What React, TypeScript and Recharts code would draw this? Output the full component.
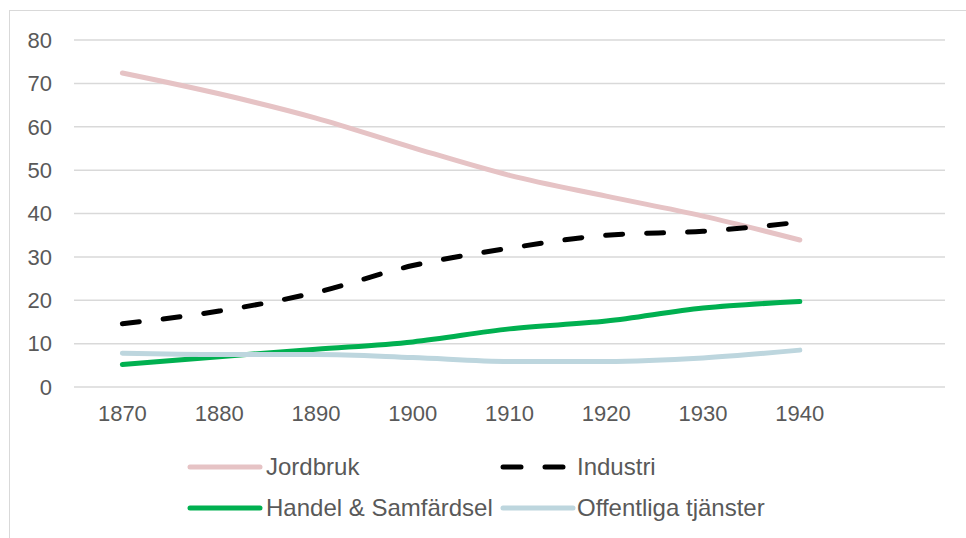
import React from 'react';
import { LineChart, Line, XAxis, YAxis, CartesianGrid, Legend } from 'recharts';

// år (sista kategorin är tom, som i originalet)
const years = ['1870', '1880', '1890', '1900', '1910', '1920', '1930', '1940', ''];

const jordbruk = [72.4, 67.6, 62, 55.2, 48.8, 44, 39.4, 33.9, null];
const industri = [14.6, 17.5, 21.8, 28, 32, 35, 35.9, 38, null];
const handel = [5.2, 7, 8.7, 10.4, 13.4, 15.2, 18.2, 19.7, null];
const offentliga = [7.8, 7.5, 7.5, 6.8, 5.9, 5.9, 6.7, 8.5, null];

const yTicks = [0, 10, 20, 30, 40, 50, 60, 70, 80];

const series = [
  { key: 'jordbruk', name: 'Jordbruk', color: '#e6c3c5', dash: undefined },
  { key: 'industri', name: 'Industri', color: '#000000', dash: '17 24' },
  { key: 'handel', name: 'Handel & Samfärdsel', color: '#00b050', dash: undefined },
  { key: 'offentliga', name: 'Offentliga tjänster', color: '#bdd6de', dash: undefined },
];

const data = years.map((year, i) => ({
  year,
  jordbruk: jordbruk[i],
  industri: industri[i],
  handel: handel[i],
  offentliga: offentliga[i],
}));

const font = '"Liberation Sans", Arial, sans-serif';
const textColor = '#595959';

const LegendIcon = ({ color, dash }: { color: string; dash?: string }) => (
  <svg width={76} height={10} style={{ display: 'block' }}>
    <line
      x1={3}
      y1={5}
      x2={dash ? 63 : 73}
      y2={5}
      stroke={color}
      strokeWidth={5}
      strokeLinecap="round"
      strokeDasharray={dash ? '18 24' : undefined}
    />
  </svg>
);

const ChartLegend = () => {
  const cols = [0, 313];
  return (
    <div style={{ position: 'relative', width: 640, height: 100, fontFamily: font, fontSize: 24, color: textColor }}>
      {series.map((s, i) => (
        <div
          key={s.key}
          style={{
            position: 'absolute',
            left: cols[i % 2],
            top: i < 2 ? 5 : 46,
            height: 28,
            display: 'flex',
            alignItems: 'center',
            whiteSpace: 'nowrap',
          }}
        >
          <LegendIcon color={s.color} dash={s.dash} />
          <span style={{ marginLeft: i % 2 === 1 ? 1 : 3 }}>{s.name}</span>
        </div>
      ))}
    </div>
  );
};

export default function App() {
  return (
    <div style={{ position: 'absolute', left: 0, top: 0, width: 966, height: 538, overflow: 'hidden', background: '#fff' }}>
      <div
        style={{
          position: 'absolute',
          left: 9,
          top: 10,
          width: 970,
          height: 540,
          borderLeft: '1px solid #d9d9d9',
          borderTop: '1px solid #d9d9d9',
        }}
      />
      <div style={{ position: 'absolute', left: 0, top: 0 }}>
        <LineChart
          width={966}
          height={538}
          data={data}
          margin={{ top: 40, right: 21, left: 24, bottom: 11 }}
        >
          <CartesianGrid vertical={false} stroke="#d9d9d9" strokeWidth={1.5} />
          <XAxis
            dataKey="year"
            scale="band"
            axisLine={false}
            tickLine={false}
            height={40}
            tickMargin={12}
            interval={0}
            tick={{ fill: textColor, fontSize: 22, fontFamily: font }}
          />
          <YAxis
            domain={[0, 80]}
            ticks={yTicks}
            axisLine={false}
            tickLine={false}
            width={50}
            tickMargin={16}
            tick={{ fill: textColor, fontSize: 22, fontFamily: font }}
          />
          <Legend
            verticalAlign="bottom"
            content={() => <ChartLegend />}
            wrapperStyle={{ left: 187, top: 448, width: 640 }}
          />
          {series.map((s) => (
            <Line
              key={s.key}
              type="monotone"
              dataKey={s.key}
              name={s.name}
              stroke={s.color}
              strokeWidth={5}
              strokeDasharray={s.dash}
              strokeLinecap="round"
              dot={false}
              activeDot={false}
              isAnimationActive={false}
            />
          ))}
        </LineChart>
      </div>
    </div>
  );
}
